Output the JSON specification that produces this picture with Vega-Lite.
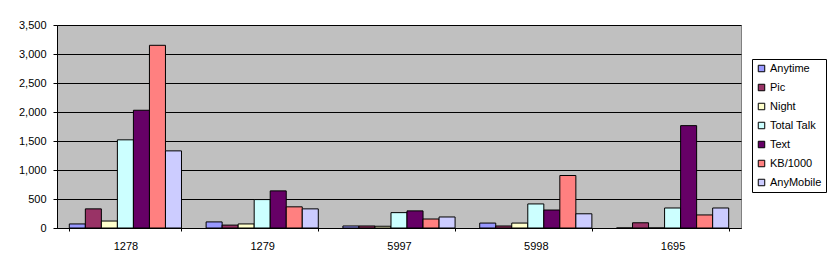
{
  "$schema": "https://vega.github.io/schema/vega-lite/v6.json",
  "width": 684,
  "height": 203,
  "autosize": {"type": "none"},
  "padding": {"left": 57, "top": 25, "right": 88, "bottom": 41},
  "background": "white",
  "data": {
    "values": [
      {"id": "1278", "series": "Anytime", "value": 70},
      {"id": "1278", "series": "Pic", "value": 330},
      {"id": "1278", "series": "Night", "value": 120},
      {"id": "1278", "series": "Total Talk", "value": 1520},
      {"id": "1278", "series": "Text", "value": 2030},
      {"id": "1278", "series": "KB/1000", "value": 3150},
      {"id": "1278", "series": "AnyMobile", "value": 1330},
      {"id": "1279", "series": "Anytime", "value": 105},
      {"id": "1279", "series": "Pic", "value": 50},
      {"id": "1279", "series": "Night", "value": 70},
      {"id": "1279", "series": "Total Talk", "value": 490},
      {"id": "1279", "series": "Text", "value": 640},
      {"id": "1279", "series": "KB/1000", "value": 365},
      {"id": "1279", "series": "AnyMobile", "value": 330},
      {"id": "5997", "series": "Anytime", "value": 35},
      {"id": "5997", "series": "Pic", "value": 35},
      {"id": "5997", "series": "Night", "value": 30},
      {"id": "5997", "series": "Total Talk", "value": 265},
      {"id": "5997", "series": "Text", "value": 295},
      {"id": "5997", "series": "KB/1000", "value": 155},
      {"id": "5997", "series": "AnyMobile", "value": 190},
      {"id": "5998", "series": "Anytime", "value": 85},
      {"id": "5998", "series": "Pic", "value": 35},
      {"id": "5998", "series": "Night", "value": 85},
      {"id": "5998", "series": "Total Talk", "value": 415},
      {"id": "5998", "series": "Text", "value": 310},
      {"id": "5998", "series": "KB/1000", "value": 905},
      {"id": "5998", "series": "AnyMobile", "value": 245},
      {"id": "1695", "series": "Anytime", "value": 0},
      {"id": "1695", "series": "Pic", "value": 90},
      {"id": "1695", "series": "Night", "value": 0},
      {"id": "1695", "series": "Total Talk", "value": 345},
      {"id": "1695", "series": "Text", "value": 1765},
      {"id": "1695", "series": "KB/1000", "value": 225},
      {"id": "1695", "series": "AnyMobile", "value": 345}
    ]
  },
  "mark": {"type": "bar", "stroke": "black", "strokeWidth": 1},
  "encoding": {
    "x": {
      "field": "id",
      "type": "nominal",
      "sort": ["1278", "1279", "5997", "5998", "1695"],
      "scale": {"paddingInner": 0.18, "paddingOuter": 0.09},
      "axis": {
        "title": null,
        "labelAngle": 0,
        "tickBand": "extent",
        "tickSize": 3,
        "tickColor": "black",
        "domainColor": "black",
        "labelPadding": 9,
        "labelFont": "Liberation Sans",
        "labelFontSize": 11,
        "labelColor": "black",
        "grid": false
      }
    },
    "xOffset": {
      "field": "series",
      "type": "nominal",
      "sort": ["Anytime", "Pic", "Night", "Total Talk", "Text", "KB/1000", "AnyMobile"],
      "scale": {"paddingInner": 0, "paddingOuter": 0}
    },
    "y": {
      "field": "value",
      "type": "quantitative",
      "scale": {"domain": [0, 3500], "nice": false},
      "axis": {
        "title": null,
        "values": [0, 500, 1000, 1500, 2000, 2500, 3000, 3500],
        "format": ",d",
        "tickSize": 4,
        "tickColor": "black",
        "domainColor": "black",
        "gridColor": "black",
        "gridWidth": 1,
        "gridOpacity": 1,
        "labelPadding": 7,
        "labelFont": "Liberation Sans",
        "labelFontSize": 11,
        "labelColor": "black"
      }
    },
    "fill": {
      "field": "series",
      "type": "nominal",
      "sort": ["Anytime", "Pic", "Night", "Total Talk", "Text", "KB/1000", "AnyMobile"],
      "scale": {
        "domain": ["Anytime", "Pic", "Night", "Total Talk", "Text", "KB/1000", "AnyMobile"],
        "range": ["#9999FF", "#993366", "#FFFFCC", "#CCFFFF", "#660066", "#FF8080", "#CCCCFF"]
      },
      "legend": {
        "title": null,
        "orient": "none",
        "legendX": 695,
        "legendY": 34,
        "padding": 4,
        "fillColor": "white",
        "strokeColor": "black",
        "symbolType": "square",
        "symbolSize": 42,
        "symbolStrokeColor": "black",
        "symbolStrokeWidth": 1,
        "symbolOpacity": 1,
        "labelFont": "Liberation Sans",
        "labelFontSize": 11,
        "labelColor": "black",
        "labelOffset": 3,
        "rowPadding": 7
      }
    }
  },
  "config": {
    "view": {"fill": "#C0C0C0", "stroke": "#808080", "strokeWidth": 1}
  }
}
